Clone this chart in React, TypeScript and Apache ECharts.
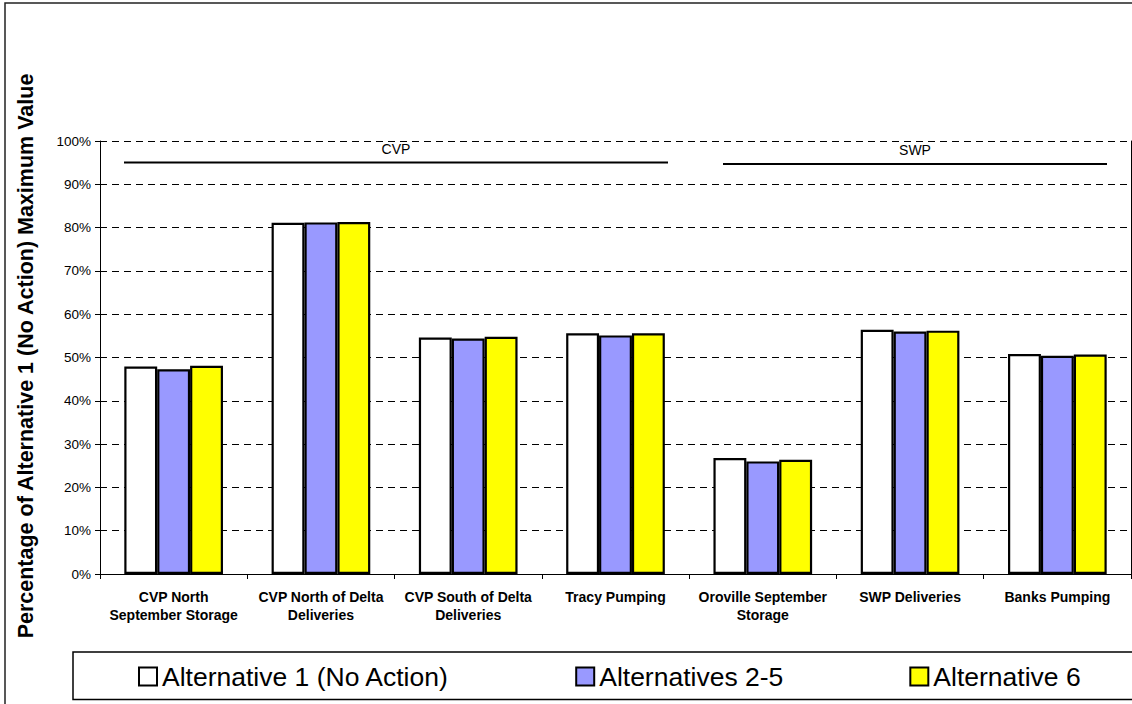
import React, { useEffect, useRef } from "react";
import * as echarts from "echarts";

const categories = [
  "CVP North\nSeptember Storage",
  "CVP North of Delta\nDeliveries",
  "CVP South of Delta\nDeliveries",
  "Tracy Pumping",
  "Oroville September\nStorage",
  "SWP Deliveries",
  "Banks Pumping",
];
const alt1 = [47.9, 81.1, 54.6, 55.6, 26.8, 56.4, 50.8];
const alt25 = [47.3, 81.2, 54.4, 55.1, 26.0, 56.0, 50.4];
const alt6 = [48.1, 81.3, 54.8, 55.6, 26.4, 56.2, 50.7];
const seriesNames = ["Alternative 1 (No Action)", "Alternatives 2-5", "Alternative 6"];
const seriesColors = ["#FFFFFF", "#9999FF", "#FFFF00"];
const yTicks = { min: 0, max: 100, interval: 10 };
const yTitle = "Percentage of Alternative 1 (No Action) Maximum Value";

const FONT = "'Liberation Sans', Arial, sans-serif";

export default function App() {
  const ref = useRef<HTMLDivElement>(null);
  useEffect(() => {
    document.body.style.margin = "0";
    const chart = echarts.init(ref.current!, null, { renderer: "svg" });
    const data = [alt1, alt25, alt6];
    chart.setOption({
      animation: false,
      backgroundColor: "#fff",
      textStyle: { fontFamily: FONT },
      grid: { left: 100, right: 1, top: 141, bottom: 130 },
      legend: {
        left: 138,
        top: 663,
        padding: 0,
        itemWidth: 18,
        itemHeight: 18,
        itemGap: 126,
        icon: "rect",
        itemStyle: { borderColor: "#000", borderWidth: 2 },
        textStyle: { fontSize: 26.5, color: "#000", fontFamily: FONT },
        data: seriesNames,
      },
      xAxis: {
        type: "category",
        data: categories,
        axisLine: { lineStyle: { color: "#000", width: 1 } },
        axisTick: { show: true, length: 5, lineStyle: { color: "#000" } },
        axisLabel: {
          interval: 0,
          color: "#000",
          fontSize: 14,
          fontWeight: "bold",
          fontFamily: FONT,
          lineHeight: 18,
          margin: 14,
        },
      },
      yAxis: [
        {
          type: "value",
          min: yTicks.min,
          max: yTicks.max,
          interval: yTicks.interval,
          axisLine: { show: true, lineStyle: { color: "#000", width: 1 } },
          axisTick: { show: true, length: 5, lineStyle: { color: "#000" } },
          axisLabel: {
            formatter: "{value}%",
            color: "#000",
            fontSize: 13.5,
            fontFamily: FONT,
            margin: 9,
          },
          splitLine: { show: true, lineStyle: { color: "#000", width: 1, type: [7, 5] } },
        },
        {
          type: "value",
          position: "right",
          min: yTicks.min,
          max: yTicks.max,
          interval: yTicks.interval,
          axisLine: { show: true, lineStyle: { color: "#000", width: 1 } },
          axisTick: { show: false },
          axisLabel: { show: false },
          splitLine: { show: false },
        },
      ],
      series: data.map((d, i) => ({
        name: seriesNames[i],
        type: "bar",
        data: d,
        barGap: "0%",
        barCategoryGap: "33%",
        itemStyle: { color: seriesColors[i], borderColor: "#000", borderWidth: 2.2 },
      })),
      graphic: [
        {
          type: "rect",
          shape: { x: 5, y: 3, width: 1200, height: 800 },
          style: { fill: "none", stroke: "#222", lineWidth: 1.5 },
          silent: true,
        },
        {
          type: "rect",
          shape: { x: 73, y: 652, width: 1100, height: 47.5 },
          style: { fill: "none", stroke: "#000", lineWidth: 1.5 },
          silent: true,
          z: -1,
        },
        {
          type: "text",
          x: 26,
          y: 356,
          rotation: Math.PI / 2,
          style: {
            text: yTitle,
            fontSize: 21.5,
            fontWeight: "bold",
            fontFamily: FONT,
            fill: "#000",
            align: "center",
            verticalAlign: "middle",
          },
        },
        {
          type: "line",
          shape: { x1: 124, y1: 162.5, x2: 668, y2: 162.5 },
          style: { stroke: "#000", lineWidth: 2 },
        },
        {
          type: "line",
          shape: { x1: 723, y1: 164, x2: 1107, y2: 164 },
          style: { stroke: "#000", lineWidth: 2 },
        },
        {
          type: "text",
          x: 396,
          y: 149,
          style: { text: "CVP", fontSize: 14, fontFamily: FONT, fill: "#000", align: "center", verticalAlign: "middle" },
        },
        {
          type: "text",
          x: 915,
          y: 150,
          style: { text: "SWP", fontSize: 14, fontFamily: FONT, fill: "#000", align: "center", verticalAlign: "middle" },
        },
      ],
    });
    return () => chart.dispose();
  }, []);
  return <div ref={ref} style={{ width: 1132, height: 704 }} />;
}
